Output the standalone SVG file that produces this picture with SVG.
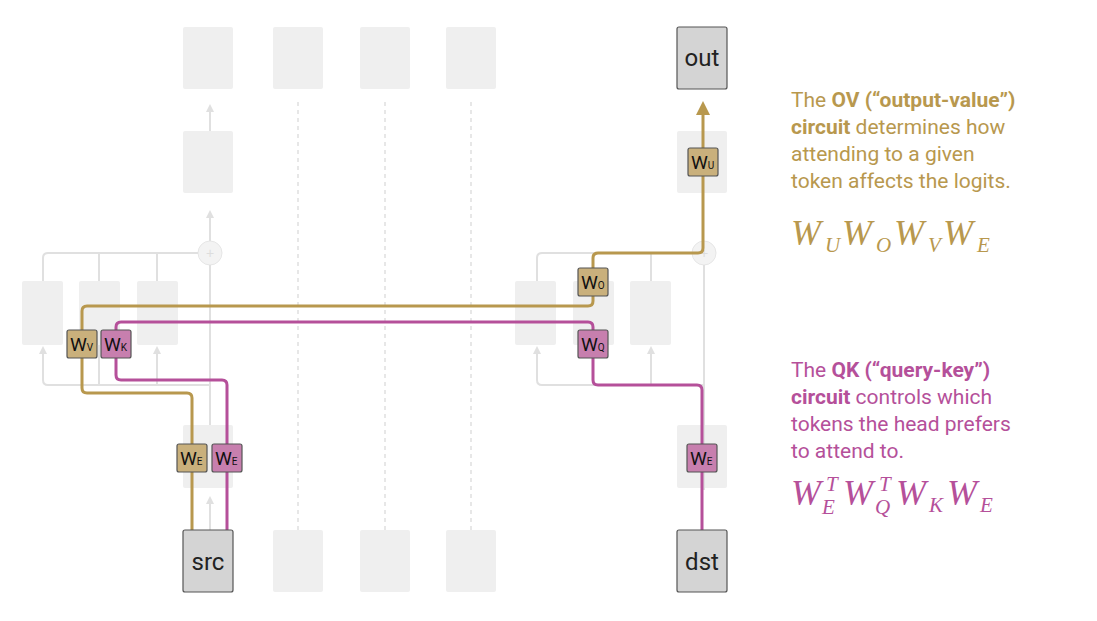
<svg xmlns="http://www.w3.org/2000/svg" width="1097" height="621" viewBox="0 0 1097 621">
<defs>
<style>
.bg{fill:#efefef}
.gl{stroke:#e0e0e0;stroke-width:2;fill:none}
.dl{stroke:#e0e0e0;stroke-width:1.5;fill:none;stroke-dasharray:4 4}
.tok{fill:#d4d4d4;stroke:#555;stroke-width:1.2}
.tt{font-family:Roboto,"Liberation Sans",sans-serif;font-size:24px;fill:#222;text-anchor:middle}
.gp{stroke:#b8984e;stroke-width:3;fill:none;stroke-linejoin:round}
.pp{stroke:#b5509a;stroke-width:3;fill:none;stroke-linejoin:round}
.gb{fill:#c9b07c;stroke:#555;stroke-width:1.2}
.pb{fill:#c77fae;stroke:#555;stroke-width:1.2}
.w{font-family:Roboto,"Liberation Sans",sans-serif;font-size:19px;fill:#111}
.ws{font-size:10px}
.d{font-family:Roboto,"Liberation Sans",sans-serif;font-size:21px}
.m{font-family:"Liberation Serif",serif;font-style:italic;font-size:36px}
.ms{font-size:21px}
</style>
<marker id="ga" markerWidth="8" markerHeight="8" refX="4" refY="4" orient="auto" markerUnits="userSpaceOnUse"><path d="M0,0L8,4L0,8z" fill="#e0e0e0"/></marker>
<marker id="go" markerWidth="14" markerHeight="14" refX="7" refY="7" orient="auto" markerUnits="userSpaceOnUse"><path d="M0,0L14,7L0,14z" fill="#b8984e"/></marker>
</defs>
<g id="background">
<rect class="bg" x="183" y="27" width="50" height="62" rx="2"/>
<rect class="bg" x="273" y="27" width="50" height="62" rx="2"/>
<rect class="bg" x="360" y="27" width="50" height="62" rx="2"/>
<rect class="bg" x="446" y="27" width="50" height="62" rx="2"/>
<rect class="bg" x="183" y="131" width="50" height="62" rx="2"/>
<rect class="bg" x="677" y="131" width="50" height="62" rx="2"/>
<rect class="bg" x="22" y="281" width="41" height="64" rx="2"/>
<rect class="bg" x="79" y="281" width="41" height="64" rx="2"/>
<rect class="bg" x="137" y="281" width="41" height="64" rx="2"/>
<rect class="bg" x="515" y="281" width="41" height="64" rx="2"/>
<rect class="bg" x="573" y="281" width="41" height="64" rx="2"/>
<rect class="bg" x="630" y="281" width="41" height="64" rx="2"/>
<rect class="bg" x="183" y="425" width="50" height="63" rx="2"/>
<rect class="bg" x="677" y="425" width="50" height="63" rx="2"/>
<rect class="bg" x="273" y="530" width="50" height="62" rx="2"/>
<rect class="bg" x="360" y="530" width="50" height="62" rx="2"/>
<rect class="bg" x="446" y="530" width="50" height="62" rx="2"/>
<circle cx="210" cy="253" r="12" fill="#f3f3f3" stroke="#e6e6e6"/>
<text x="210" y="258" font-family="Liberation Sans,sans-serif" font-size="14" fill="#ddd" text-anchor="middle">+</text>
<circle cx="704" cy="253" r="12" fill="#f3f3f3" stroke="#e6e6e6"/>
<text x="704" y="258" font-family="Liberation Sans,sans-serif" font-size="14" fill="#ddd" text-anchor="middle">+</text>
</g>
<g id="connectors">
<path class="gl" d="M210,530V500"/>
<path class="gl" d="M210,425V265" />
<path class="gl" d="M210,241V214" marker-end="url(#ga)"/>
<path class="gl" d="M210,131V108" marker-end="url(#ga)"/>
<path class="gl" d="M43,281V258Q43,253 48,253H198M99,281V253M157,281V253"/>
<path class="gl" d="M210,385H48Q43,385 43,380V354M157,385V354M99,385V345"/>
<path class="gl" d="M537,281V258Q537,253 542,253H692M651,281V253"/>
<path class="gl" d="M704,265V490M704,385H542Q537,385 537,380V354M651,385V354"/>
<path class="gl" d="M43,352V350" marker-end="url(#ga)"/>
<path class="gl" d="M157,352V350" marker-end="url(#ga)"/>
<path class="gl" d="M537,352V350" marker-end="url(#ga)"/>
<path class="gl" d="M651,352V350" marker-end="url(#ga)"/>
<path class="gl" d="M210,502V500" marker-end="url(#ga)"/>
<path class="dl" d="M298,530V100M385,530V100M471,530V100"/>
<path class="gp" d="M192,530V398Q192,393 187,393H87Q82,393 82,388V311Q82,306 87,306H588Q593,306 593,301V258Q593,253 598,253H698Q703,253 703,248V108" marker-end="url(#go)"/>
<path class="pp" d="M227,530V385Q227,380 222,380H121Q116,380 116,375V327Q116,322 121,322H588Q593,322 593,327V380Q593,385 598,385H697Q702,385 702,390V530"/>
</g>
<g id="tokens">
<g id="out"><rect class="tok" x="677" y="27" width="50" height="62" rx="2"/><text class="tt" x="702" y="66">out</text></g>
<g id="src"><rect class="tok" x="183" y="530" width="50" height="62" rx="2"/><text class="tt" x="208" y="570">src</text></g>
<g id="dst"><rect class="tok" x="677" y="530" width="50" height="62" rx="2"/><text class="tt" x="702" y="570">dst</text></g>
</g>
<g id="weights">
<g id="WU"><rect class="gb" x="688" y="148" width="30" height="28" rx="2"/><text class="w" x="691" y="169">W<tspan class="ws">U</tspan></text></g>
<g id="WO"><rect class="gb" x="578" y="268" width="30" height="28" rx="2"/><text class="w" x="581" y="289">W<tspan class="ws">O</tspan></text></g>
<g id="WQ"><rect class="pb" x="578" y="330" width="30" height="28" rx="2"/><text class="w" x="581" y="351">W<tspan class="ws">Q</tspan></text></g>
<g id="WV"><rect class="gb" x="67" y="330" width="30" height="28" rx="2"/><text class="w" x="70" y="351">W<tspan class="ws">V</tspan></text></g>
<g id="WK"><rect class="pb" x="101" y="330" width="30" height="28" rx="2"/><text class="w" x="104" y="351">W<tspan class="ws">K</tspan></text></g>
<g id="WE1"><rect class="gb" x="177" y="444" width="30" height="28" rx="2"/><text class="w" x="180" y="465">W<tspan class="ws">E</tspan></text></g>
<g id="WE2"><rect class="pb" x="212" y="444" width="30" height="28" rx="2"/><text class="w" x="215" y="465">W<tspan class="ws">E</tspan></text></g>
<g id="WE3"><rect class="pb" x="687" y="444" width="30" height="28" rx="2"/><text class="w" x="690" y="465">W<tspan class="ws">E</tspan></text></g>
</g>
<g id="ov-text" fill="#b8984e">
<text class="d" x="791" y="107">The <tspan font-weight="bold">OV (“output-value”)</tspan></text>
<text class="d" x="791" y="134"><tspan font-weight="bold">circuit</tspan> determines how</text>
<text class="d" x="791" y="161">attending to a given</text>
<text class="d" x="791" y="188">token affects the logits.</text>
<text class="m" y="245"><tspan x="791">W</tspan><tspan class="ms" x="825" dy="7">U</tspan><tspan x="842" dy="-7">W</tspan><tspan class="ms" x="876" dy="7">O</tspan><tspan x="894" dy="-7">W</tspan><tspan class="ms" x="928" dy="7">V</tspan><tspan x="943" dy="-7">W</tspan><tspan class="ms" x="977" dy="7">E</tspan></text>
</g>
<g id="qk-text" fill="#b5509a">
<text class="d" x="791" y="377">The <tspan font-weight="bold">QK (“query-key”)</tspan></text>
<text class="d" x="791" y="404"><tspan font-weight="bold">circuit</tspan> controls which</text>
<text class="d" x="791" y="431">tokens the head prefers</text>
<text class="d" x="791" y="458">to attend to.</text>
<text class="m" y="505"><tspan x="791">W</tspan><tspan class="ms" x="822" dy="9">E</tspan><tspan class="ms" x="826" dy="-23">T</tspan><tspan x="843" dy="14">W</tspan><tspan class="ms" x="875" dy="9">Q</tspan><tspan class="ms" x="879" dy="-23">T</tspan><tspan x="896" dy="14">W</tspan><tspan class="ms" x="929" dy="7">K</tspan><tspan x="947" dy="-7">W</tspan><tspan class="ms" x="980" dy="7">E</tspan></text>
</g>
</svg>
